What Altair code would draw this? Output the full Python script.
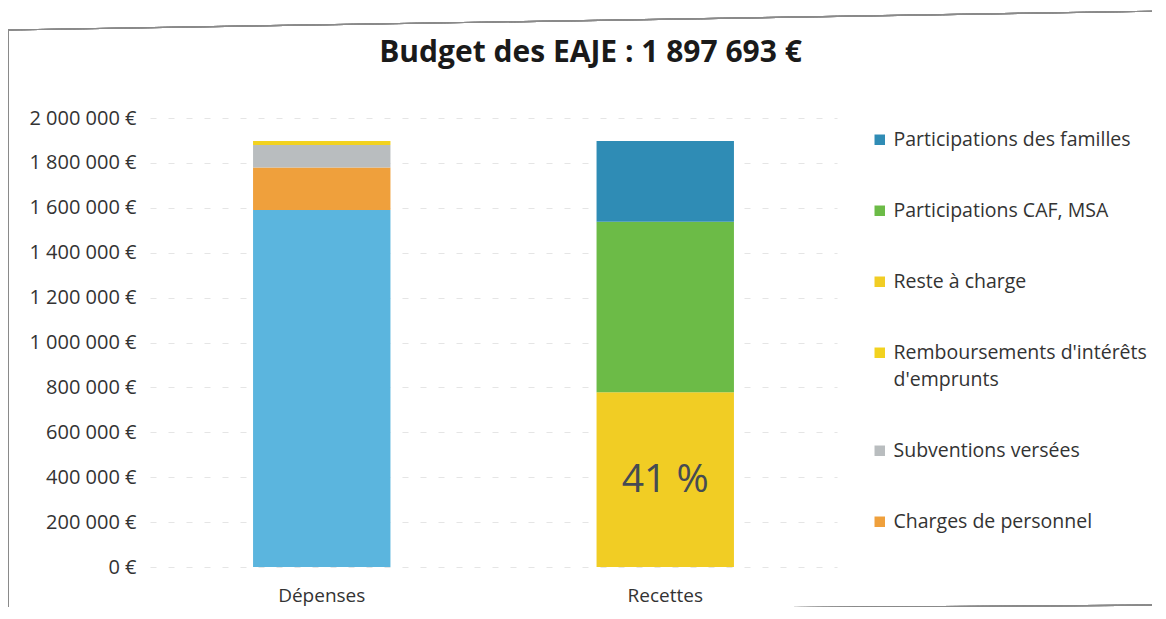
import altair as alt
import pandas as pd

categories = ["Dépenses", "Dépenses", "Dépenses", "Dépenses", "Recettes", "Recettes", "Recettes"]
postes = ["Autres dépenses", "Charges de personnel", "Subventions versées",
          "Remboursements d'intérêts d'emprunts",
          "Reste à charge", "Participations CAF, MSA", "Participations des familles"]
values = [1590000, 190000, 100000, 17693, 778000, 760000, 359693]
stack_order = [1, 2, 3, 4, 1, 2, 3]

legend_items = ["Participations des familles", "Participations CAF, MSA", "Reste à charge",
                "Remboursements d'intérêts d'emprunts", "Subventions versées", "Charges de personnel"]
domain = legend_items + ["Autres dépenses"]
colors = ["#2f8cb5", "#6cbb47", "#f1cd24", "#f2d21f", "#b9bdbf", "#efa03c", "#5bb5de"]

label_cat = ["Recettes"]
label_val = [389000]
label_txt = ["41 %"]

df = pd.DataFrame({"cat": categories, "poste": postes, "val": values, "ord": stack_order})
lab = pd.DataFrame({"cat": label_cat, "val": label_val, "txt": label_txt})

FONT = "Open Sans"

x_enc = alt.X("cat:N", title=None, sort=["Dépenses", "Recettes"],
              scale=alt.Scale(paddingInner=0.6, paddingOuter=0.3),
              axis=alt.Axis(labelAngle=0, labelFontSize=19, labelColor="#333333",
                            labelPadding=19, ticks=False, domain=False, labelFont=FONT))

bars = alt.Chart(df).mark_bar(stroke=None).encode(
    x=x_enc,
    y=alt.Y("val:Q", stack="zero", title=None,
            scale=alt.Scale(domain=[0, 2000000], nice=False),
            axis=alt.Axis(values=list(range(0, 2000001, 200000)),
                          labelExpr="replace(format(datum.value, ',d'), /,/g, ' ') + ' €'",
                          labelFontSize=20, labelColor="#333333", labelPadding=14,
                          ticks=False, domain=False, labelFont=FONT,
                          grid=True, gridColor="#d0d0d0", gridDash=[6, 12], gridOpacity=0.55)),
    color=alt.Color("poste:N", scale=alt.Scale(domain=domain, range=colors),
                    legend=alt.Legend(values=legend_items, title=None, orient="none",
                                      legendX=720, legendY=12,
                                      symbolType="square", symbolSize=110,
                                      symbolStrokeWidth=0,
                                      labelFontSize=19.5, labelColor="#333333", labelFont=FONT,
                                      labelLimit=400, rowPadding=50,
                                      labelExpr="indexof(datum.label, 'emprunts') > 0 ? [\"Remboursements d'intérêts\", \"d'emprunts\"] : datum.label")),
    order=alt.Order("ord:Q"),
)

text = alt.Chart(lab).mark_text(fontSize=39, color="#454b53", font=FONT, baseline="middle", dy=0).encode(
    x=alt.X("cat:N", sort=["Dépenses", "Recettes"]),
    y=alt.Y("val:Q"),
    text="txt:N",
)

# scanned page frame (decoration only)
frame_top = alt.Chart(df).mark_rule(color="#8a8a8a", strokeWidth=1.2).encode(
    x=alt.value(-142), y=alt.value(-88), x2=alt.value(1016), y2=alt.value(-107))
frame_left = alt.Chart(df).mark_rule(color="#8a8a8a", strokeWidth=1.2).encode(
    x=alt.value(-142), y=alt.value(-88), x2=alt.value(-142), y2=alt.value(501))
frame_bottom = alt.Chart(df).mark_rule(color="#8a8a8a", strokeWidth=1.2).encode(
    x=alt.value(-142), y=alt.value(495), x2=alt.value(1016), y2=alt.value(487))

chart = alt.layer(bars, text, frame_top, frame_left, frame_bottom).properties(
    width=687, height=449,
    background="white",
    title=alt.TitleParams("Budget des EAJE : 1 897 693 €", fontSize=30, fontWeight="bold",
                          font=FONT, color="#1a1a1a", anchor="middle", dx=97, offset=-58),
    autosize=alt.AutoSizeParams(type="none"),
    padding={"left": 142, "top": 110, "right": 315, "bottom": 40},
).configure(view=alt.ViewConfig(strokeWidth=0), style={"guide-label": {"lineHeight": 27}})

chart.save("out.html", embed_options={"renderer": "svg", "actions": False})
